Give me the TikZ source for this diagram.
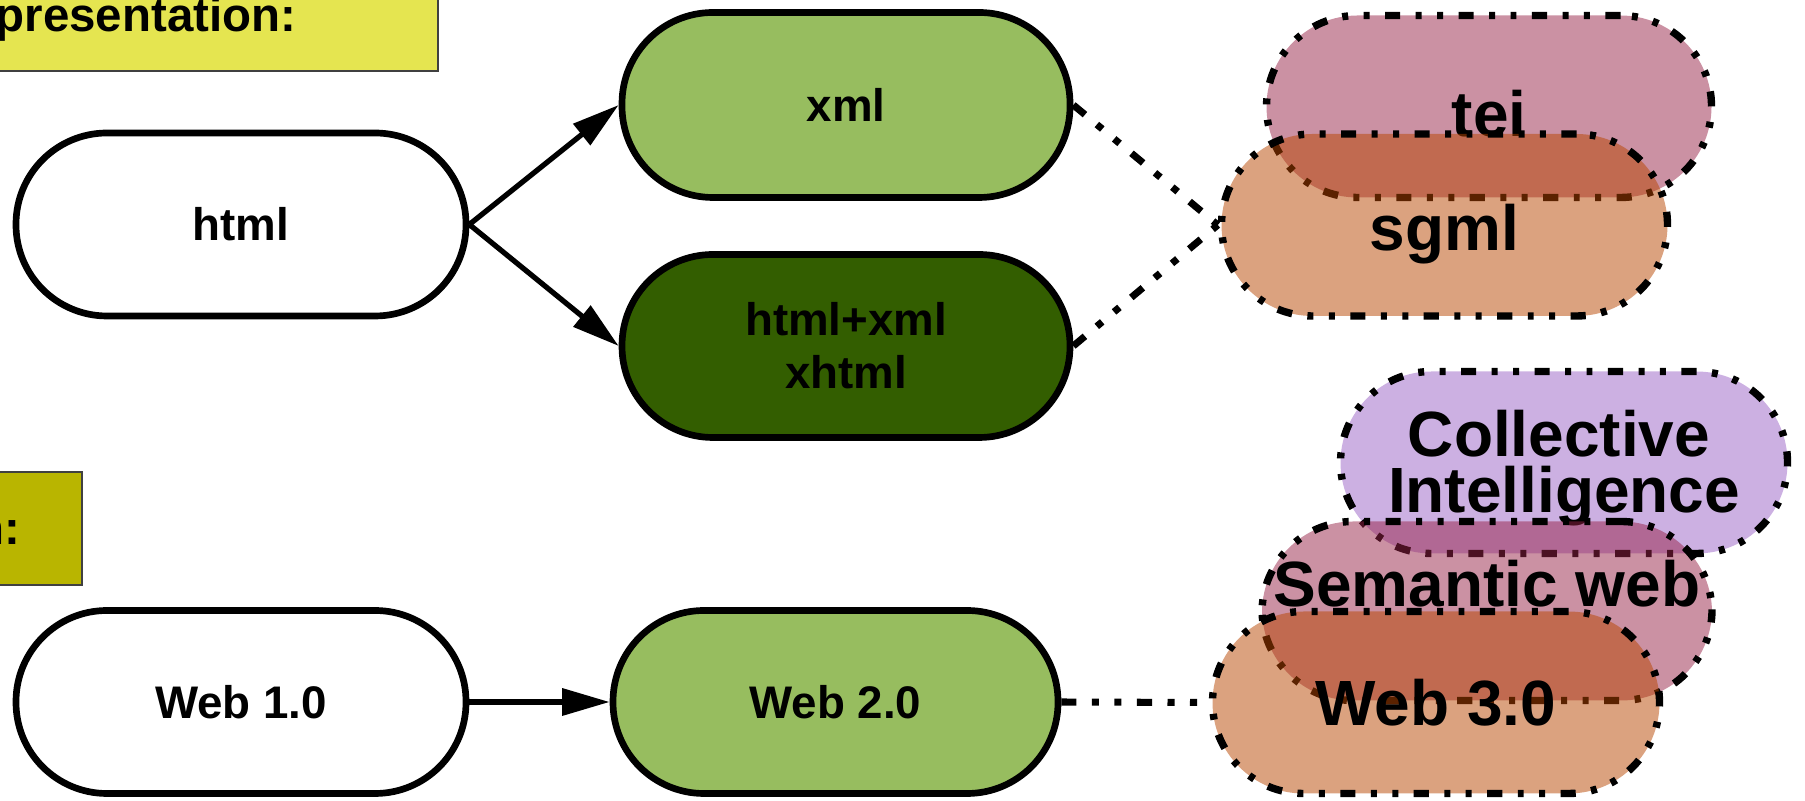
\documentclass[tikz,border=0pt]{standalone}
\usepackage{fontspec}
\setmainfont{Liberation Sans}
\usetikzlibrary{arrows.meta}

\definecolor{lightgreen}{RGB}{151,189,95}
\definecolor{darkgreen}{RGB}{51,94,0}
\definecolor{labelyellow}{RGB}{229,229,80}
\definecolor{labelolive}{RGB}{185,181,0}
\definecolor{teicol}{RGB}{151,35,71}
\definecolor{sgmlcol}{RGB}{183,69,0}
\definecolor{cicol}{RGB}{153,97,197}

% lift a node text without changing its box
\newcommand{\liftby}[2]{\raisebox{#1}[\height][\depth]{#2}}

\begin{document}
\begin{tikzpicture}[
    leftbox/.style = {draw=black, line width=1.9pt, rounded corners=0.91cm,
        minimum width=4.5cm, minimum height=1.83cm, align=center,
        font=\fontsize{13}{15}\selectfont\bfseries},
    rightbox/.style = {draw=black, line width=2.1pt, rounded corners=0.91cm,
        dash pattern=on 4.3pt off 4.4pt on 1.7pt off 4.4pt on 1.7pt off 4.4pt,
        minimum width=4.46cm, minimum height=1.82cm, fill opacity=0.5,
        text opacity=1, align=center,
        font=\fontsize{18.2}{15.9}\selectfont\bfseries},
    link/.style = {-{Triangle[length=13.5pt,width=7.5pt]}, line width=1.5pt},
    relation/.style = {line width=2pt,
        dash pattern=on 4.3pt off 4.4pt on 2pt off 4.4pt on 2pt off 4.4pt},
    tag/.style = {anchor=base east, inner sep=0pt,
        font=\fontsize{13.5}{15}\selectfont\bfseries}
]
    \useasboundingbox (0,0) rectangle (18.05,-8.01);

    % label boxes
    \draw [fill=labelyellow, draw=black!75, line width=0.6pt] (-0.5,0.5) rectangle (4.38,-0.71);
    \node[tag] (reptag) at (2.97,-0.32) {presentation:};
    \draw [fill=labelolive, draw=black!75, line width=0.6pt] (-0.5,-4.72) rectangle (0.82,-5.85);
    \node[tag] (webtag) at (0.21,-5.45) {n:};

    % upper row
    \node[leftbox, fill=white] (html) at (2.41,-2.245) {html};
    \node[leftbox, fill=lightgreen, minimum width=4.48cm, minimum height=1.85cm] (xml) at (8.46,-1.05) {xml};
    \node[leftbox, fill=darkgreen, minimum width=4.48cm] (xhtml) at (8.46,-3.46) {html+xml\\xhtml};

    % lower row
    \node[leftbox, fill=white] (web1) at (2.41,-7.02) {Web 1.0};
    \node[leftbox, fill=lightgreen, minimum width=4.45cm] (web2) at (8.355,-7.02) {Web 2.0};

    \draw [link] (html.east) -- (xml.west);
    \draw [link] (html.east) -- (xhtml.west);
    \draw [link] (web1.east) -- (web2.west);

    % right column, drawn back to front
    \node[rightbox, fill=teicol, minimum width=4.45cm] (tei) at (14.89,-1.065) {\liftby{-0.07cm}{tei}};
    \node[rightbox, fill=sgmlcol] (sgml) at (14.445,-2.25) {\liftby{-0.09cm}{sgml}};
    \node[rightbox, fill=cicol, minimum width=4.47cm] (ci) at (15.64,-4.625) {\liftby{-0.06cm}{Collective\hspace{0.1cm}}\\\liftby{-0.06cm}{Intelligence}};
    \node[rightbox, fill=teicol, minimum width=4.49cm, minimum height=1.79cm] (semweb) at (14.87,-6.11) {\liftby{0.27cm}{Semantic web}};
    \node[rightbox, fill=sgmlcol, minimum width=4.47cm] (web3) at (14.36,-7.025) {Web 3.0};

    \draw [relation] (xml.east) -- (sgml.west);
    \draw [relation] (xhtml.east) -- (sgml.west);
    \draw [relation] (web2.east) -- (web3.west);

\end{tikzpicture}
\end{document}
